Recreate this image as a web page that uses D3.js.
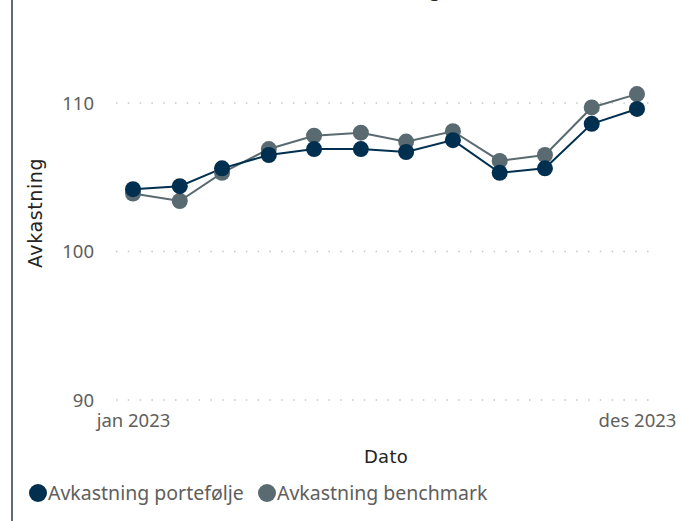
<!DOCTYPE html>
<html lang="no">
<head>
<meta charset="UTF-8">
<title>Avkastning</title>
<script src="https://cdn.jsdelivr.net/npm/d3@7"></script>
<style>
body{margin:0;background:#fff;font-family:"Noto Sans","Open Sans",sans-serif}
</style>
</head>
<body>
<div id="chart"></div>
<script>
// data
var maaneder=['2023-01','2023-02','2023-03','2023-04','2023-05','2023-06','2023-07','2023-08','2023-09','2023-10','2023-11','2023-12']
var portefolje=[104.2,104.4,105.6,106.5,106.9,106.9,106.7,107.5,105.3,105.6,108.6,109.6]
var benchmark=[103.9,103.4,105.3,106.9,107.8,108.0,107.4,108.1,106.1,106.5,109.7,110.6]
var yTicks=[90,100,110]
var xTickLabels=['jan 2023','des 2023']
var serier=[{navn:'Avkastning portefølje',verdier:portefolje,farge:'#002f4f'},
	{navn:'Avkastning benchmark',verdier:benchmark,farge:'#596a70'}]

var W=681,H=521
var svg=d3.select('#chart').append('svg').attr('width',W).attr('height',H)

// venstre kant
svg.append('line').attr('x1',12).attr('x2',12).attr('y1',0).attr('y2',H)
	.attr('stroke','#5b6e78').attr('stroke-width',2)

// tittel (delvis utenfor)
svg.append('text').attr('x',441).attr('y',-4).attr('text-anchor','end')
	.attr('font-size',20).attr('fill','#252423').text('Avkastning')

var parse=d3.timeParse('%Y-%m')
var datoer=maaneder.map(parse)
var x=d3.scaleTime().domain(d3.extent(datoer)).range([133,637])
var y=d3.scaleLinear().domain([90,110]).range([400,103])

// grid
svg.selectAll('.grid').data(yTicks).enter().append('line')
	.attr('x1',116).attr('x2',656)
	.attr('y1',function(d){return y(d)}).attr('y2',function(d){return y(d)})
	.attr('stroke','#c8c6c4').attr('stroke-width',1.5)
	.attr('stroke-dasharray','1.5 10.3')

// y-akse
var yAxis=svg.append('g').attr('transform','translate(98,0)')
	.call(d3.axisLeft(y).tickValues(yTicks).tickSize(0).tickPadding(4))
yAxis.select('.domain').remove()
yAxis.selectAll('text').attr('font-size',18.5).attr('fill','#605e5c')
	.attr('font-family','"Noto Sans",sans-serif').attr('dy','0.35em')

// x-akse
var xAxis=svg.append('g').attr('transform','translate(0,414)')
	.call(d3.axisBottom(x).tickValues([datoer[0],datoer[datoer.length-1]])
		.tickFormat(function(d,i){return xTickLabels[i]}).tickSize(0).tickPadding(0))
xAxis.select('.domain').remove()
xAxis.selectAll('text').attr('font-size',18.5).attr('fill','#605e5c')
	.attr('font-family','"Noto Sans",sans-serif')

// aksetitler
svg.append('text').attr('transform','translate(42,213) rotate(-90)')
	.attr('text-anchor','middle').attr('font-size',19).attr('fill','#252423')
	.attr('font-family','"DejaVu Sans",sans-serif')
	.attr('letter-spacing',0.6).text('Avkastning')
svg.append('text').attr('x',386).attr('y',463)
	.attr('text-anchor','middle').attr('font-size',18).attr('fill','#252423')
	.attr('font-family','"DejaVu Sans",sans-serif')
	.attr('letter-spacing',0.3).text('Dato')

// linjer og punkter (benchmark tegnes først)
var linje=d3.line().x(function(d,i){return x(datoer[i])}).y(function(d){return y(d)})
var rekkefolge=[serier[1],serier[0]]
rekkefolge.forEach(function(s){
	svg.append('path').datum(s.verdier).attr('fill','none')
		.attr('stroke',s.farge).attr('stroke-width',2).attr('d',linje)
})
rekkefolge.forEach(function(s){
	svg.selectAll(null).data(s.verdier).enter().append('circle')
		.attr('cx',function(d,i){return x(datoer[i])})
		.attr('cy',function(d){return y(d)})
		.attr('r',8).attr('fill',s.farge)
})

// legende
var lx=[38,267]
var leg=svg.selectAll('.leg').data(serier).enter().append('g')
	.attr('transform',function(d,i){return 'translate('+lx[i]+',493)'})
leg.append('circle').attr('r',9).attr('fill',function(d){return d.farge})
leg.append('text').attr('x',10).attr('y',7).attr('font-size',19.5).attr('fill','#605e5c')
	.attr('font-family','"Noto Sans",sans-serif').text(function(d){return d.navn})
</script>
</body>
</html>
